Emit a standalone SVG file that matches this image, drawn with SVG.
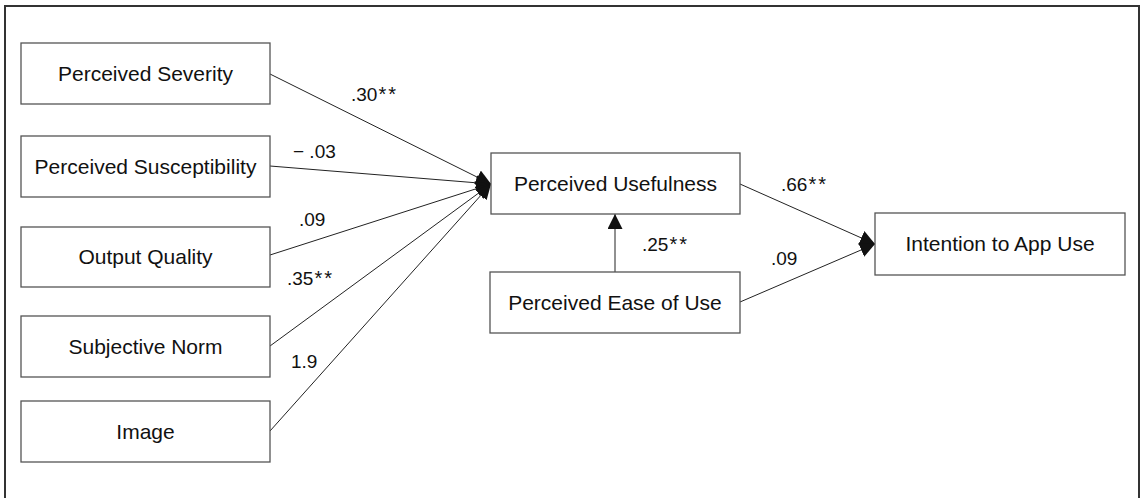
<svg xmlns="http://www.w3.org/2000/svg" width="1141" height="498" viewBox="0 0 1141 498">
  <style>
    .frame { fill: none; stroke: #333; stroke-width: 2; }
    .box rect { fill: #fff; stroke: #555; stroke-width: 1.3; }
    .box text { font-family: "Liberation Sans", Arial, sans-serif; font-size: 21px; fill: #111; text-anchor: middle; }
    .edge { stroke: #222; stroke-width: 1; fill: none; marker-end: url(#head); }
    .coef { font-family: "Liberation Sans", Arial, sans-serif; font-size: 19px; fill: #111; }
    .star { font-size: 20px; }
  </style>
  <defs>
    <marker id="head" markerUnits="userSpaceOnUse" markerWidth="15" markerHeight="15" refX="15" refY="7.5" orient="auto">
      <path d="M0,0 L15,7.5 L0,15 z" fill="#111"/>
    </marker>
  </defs>

  <rect width="1141" height="498" fill="#fff"/>
  <!-- open-bottomed border -->
  <path class="frame" d="M5,500 V6 H1139 V500"/>

  <!-- path coefficients and arrows -->
  <g id="connectors">
    <line class="edge" x1="270" y1="74" x2="491" y2="184"/>
    <line class="edge" x1="270" y1="166" x2="491" y2="184"/>
    <line class="edge" x1="270" y1="255" x2="491" y2="184"/>
    <line class="edge" x1="270" y1="346" x2="491" y2="184"/>
    <line class="edge" x1="270" y1="431" x2="491" y2="184"/>
    <line class="edge" x1="615" y1="272" x2="615" y2="214"/>
    <line class="edge" x1="740" y1="184" x2="875" y2="244"/>
    <line class="edge" x1="740" y1="302" x2="875" y2="244"/>
    <text class="coef" x="351" y="101">.30<tspan class="star" dx="1">*</tspan><tspan class="star" dx="2">*</tspan></text>
    <text class="coef" x="293" y="158">− .03</text>
    <text class="coef" x="299" y="226">.09</text>
    <text class="coef" x="287" y="285">.35<tspan class="star" dx="1">*</tspan><tspan class="star" dx="2">*</tspan></text>
    <text class="coef" x="291" y="368">1.9</text>
    <text class="coef" x="781" y="191">.66<tspan class="star" dx="1">*</tspan><tspan class="star" dx="2">*</tspan></text>
    <text class="coef" x="642" y="251">.25<tspan class="star" dx="1">*</tspan><tspan class="star" dx="2">*</tspan></text>
    <text class="coef" x="771" y="265">.09</text>
  </g>

  <g id="severity" class="box">
    <rect x="21" y="43" width="249" height="61"/>
    <text x="145.5" y="81">Perceived Severity</text>
  </g>
  <g id="susceptibility" class="box">
    <rect x="21" y="136" width="249" height="61"/>
    <text x="145.5" y="174">Perceived Susceptibility</text>
  </g>
  <g id="output-quality" class="box">
    <rect x="21" y="227" width="249" height="60"/>
    <text x="145.5" y="264">Output Quality</text>
  </g>
  <g id="subjective-norm" class="box">
    <rect x="21" y="316" width="249" height="61"/>
    <text x="145.5" y="354">Subjective Norm</text>
  </g>
  <g id="image" class="box">
    <rect x="21" y="401" width="249" height="61"/>
    <text x="145.5" y="439">Image</text>
  </g>
  <g id="usefulness" class="box">
    <rect x="491" y="153" width="249" height="61"/>
    <text x="615.5" y="191">Perceived Usefulness</text>
  </g>
  <g id="ease-of-use" class="box">
    <rect x="490" y="272" width="250" height="61"/>
    <text x="615" y="310">Perceived Ease of Use</text>
  </g>
  <g id="intention" class="box">
    <rect x="875" y="213" width="250" height="62"/>
    <text x="1000" y="251">Intention to App Use</text>
  </g>
</svg>
